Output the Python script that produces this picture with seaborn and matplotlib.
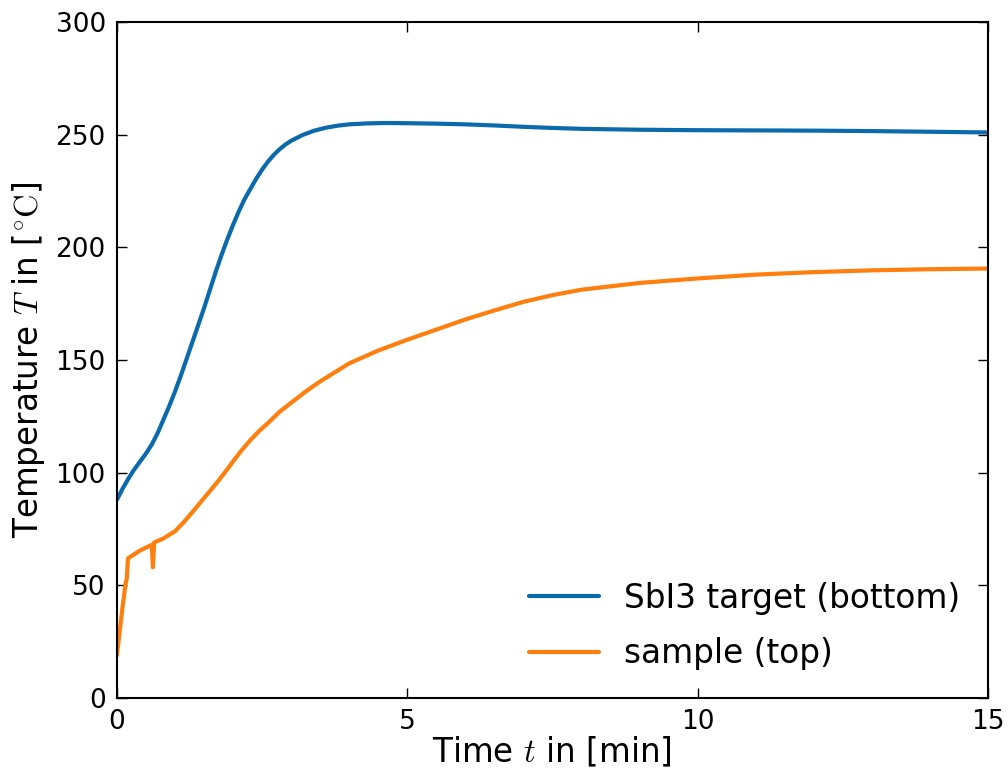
import numpy as np
import pandas as pd
import matplotlib
matplotlib.use("Agg")
import matplotlib.pyplot as plt
import seaborn as sns

# Data
t_target = [0, 0.1, 0.2, 0.3, 0.4, 0.5, 0.6, 0.7, 0.8, 0.9, 1.0, 1.1, 1.2, 1.3, 1.4,
            1.5, 1.6, 1.7, 1.8, 1.9, 2.0, 2.1, 2.2, 2.3, 2.4, 2.5, 2.6, 2.7, 2.8, 2.9,
            3.0, 3.2, 3.4, 3.6, 3.8, 4.0, 4.3, 4.6, 5.0, 5.5, 6.0, 6.5, 7.0, 7.5, 8.0,
            9.0, 10.0, 11.0, 12.0, 13.0, 14.0, 15.0]
T_target = [88, 93, 97.5, 101.5, 105, 108.5, 112.5, 117.5, 123.5, 129.5, 136, 143, 150.5, 158, 165.5,
            173, 181, 189, 196.5, 203.5, 210, 216, 221.5, 226, 230.5, 234.5, 238, 241, 243.5, 245.6,
            247.3, 249.9, 251.8, 253.1, 254, 254.6, 255, 255.2, 255.1, 254.9, 254.6, 254.1, 253.5, 253.0, 252.6,
            252.2, 252.0, 251.9, 251.8, 251.6, 251.3, 251.0]

t_sample = [0, 0.05, 0.1, 0.15, 0.17, 0.19, 0.25, 0.4, 0.6, 0.62, 0.64, 0.8, 1.0, 1.15, 1.3, 1.45,
            1.6, 1.75, 1.9, 2.0, 2.15, 2.3, 2.45, 2.6, 2.8, 3.0, 3.25, 3.5, 4.0, 4.5, 5.0, 5.5,
            6.0, 6.5, 7.0, 7.5, 8.0, 9.0, 10.0, 11.0, 12.0, 13.0, 14.0, 15.0]
T_sample = [19, 30, 41, 51, 53, 62, 63, 65.5, 68, 58, 69, 70.8, 74, 78, 82.5, 87.2,
            91.8, 96.5, 101.5, 105, 110, 114.5, 118.5, 122, 127, 131, 136, 140.5, 148.5, 154.2, 159, 163.5,
            168, 172, 175.8, 178.8, 181.2, 184.2, 186.2, 187.9, 189.0, 189.8, 190.3, 190.6]

labels = ["SbI3 target (bottom)", "sample (top)"]
colors = ["#0b6aab", "#ff7f0e"]

df = pd.concat([
    pd.DataFrame({"t": t_target, "T": T_target, "series": labels[0]}),
    pd.DataFrame({"t": t_sample, "T": T_sample, "series": labels[1]}),
], ignore_index=True)

sns.set_style("ticks")
plt.rcParams.update({
    "font.family": ["DejaVu Sans"],
    "mathtext.fontset": "cm",
    "text.color": "black",
    "axes.labelcolor": "black",
    "xtick.direction": "in",
    "ytick.direction": "in",
    "xtick.top": True,
    "ytick.right": True,
    "xtick.major.size": 7,
    "ytick.major.size": 7,
    "xtick.major.width": 1,
    "ytick.major.width": 1,
    "axes.linewidth": 1.5,
    "axes.edgecolor": "black",
    "xtick.color": "black",
    "ytick.color": "black",
    "xtick.labelcolor": "black",
    "ytick.labelcolor": "black",
})

fig = plt.figure(figsize=(10.08, 7.73), dpi=100)
ax = fig.add_axes([0.116, 0.097, 0.864, 0.8745])

sns.lineplot(data=df, x="t", y="T", hue="series", hue_order=labels,
             palette=colors, linewidth=3, ax=ax, sort=False, estimator=None)

ax.set_xlim(0, 15)
ax.set_ylim(0, 300)
ax.set_xticks([0, 5, 10, 15])
ax.set_yticks([0, 50, 100, 150, 200, 250, 300])
ax.tick_params(labelsize=19, pad=8)
ax.set_xlabel(r"Time $t$ in [min]", fontsize=23.5, labelpad=0)
ax.set_ylabel(r"Temperature $T$ in [$^{\circ}\mathrm{C}$]", fontsize=23.5, labelpad=6)

leg = ax.legend(loc="lower right", frameon=False, fontsize=23.6, handlelength=2.15,
                handletextpad=0.75, labelspacing=0.68, borderaxespad=0.45)
for txt in leg.get_texts():
    txt.set_color("black")

fig.savefig("out.png", dpi=100)
